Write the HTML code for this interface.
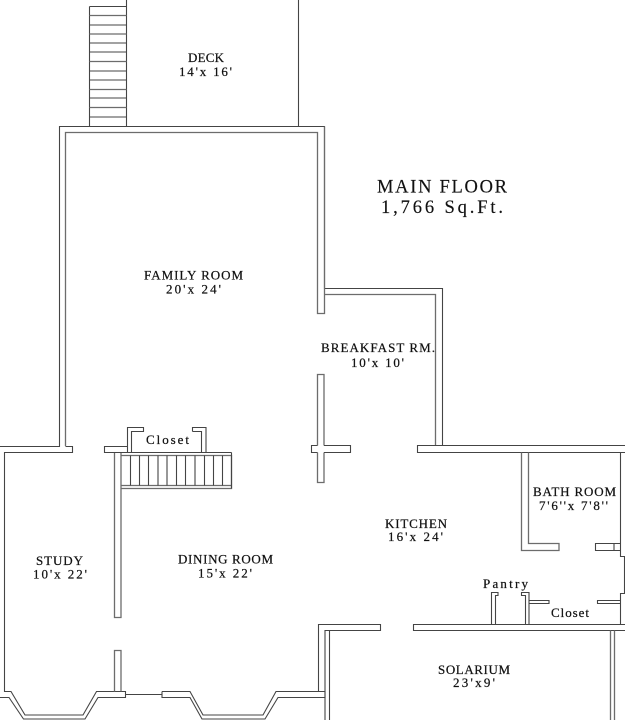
<!DOCTYPE html>
<html><head><meta charset="utf-8"><style>
html,body{margin:0;padding:0;background:#fff}
svg{display:block}
.w{fill:none;stroke:#444;stroke-width:1.1}
.g{fill:none;stroke:#6c6c6c;stroke-width:1.3}
text{font-family:"Liberation Serif",serif;font-size:13px;fill:#111;stroke:#111;stroke-width:.22px;white-space:pre}
.big{font-size:18.5px;stroke-width:.15px}
</style></head><body>
<svg width="625" height="720" viewBox="0 0 625 720" xmlns="http://www.w3.org/2000/svg">
<!-- deck -->
<path class="w" d="M89.5 6.5V126.5M126.5 0V126.5M298.5 0V126.5"/>
<path class="w" d="M89.5 6.5H126.5M89.5 25H126.5M89.5 43H126.5M89.5 52H126.5M89.5 71H126.5M89.5 80H126.5M89.5 98H126.5M89.5 117H126.5"/>
<path class="g" d="M89.5 15.5H126.5M89.5 34H126.5M89.5 61.5H126.5M89.5 89.5H126.5M89.5 107.5H126.5"/>
<!-- family room -->
<path class="w" d="M0 446.5H59.5V126.5H324.5V288.5H442.5V446"/>
<path class="g" d="M65.5 446V132.5H317.5V313.5H324.5V126.5M324.5 294.5H435.5V446"/>
<path class="w" d="M65.5 446.5H72.5V452.5H4.5V691.5H11L25 715H83L96.5 691.5H125.5V697.5H98L85 719H23.5L9 697.5H0"/>
<!-- dining wall -->
<path class="g" d="M114.5 452.5V617.5H121V452.5"/>
<path class="g" d="M114.5 691.5V650.5H121V691.5"/>
<path class="w" d="M125.5 694.5H162"/>
<path class="w" d="M162 691.5V697.5H190L202 719H265L278 697.5H325V691.5H276L263 715H203L190 691.5H162"/>
<!-- closet / stair -->
<path class="w" d="M127.5 446.5H104.5V452.5H231.5M127.5 452V427.5H143.5V431.5H131.5V452M192.5 431.5V427.5H206V452M192.5 431.5H201.5V452"/>
<path class="g" d="M121 455.5H231.5V488.5H121M121 485.5H231.5"/>
<path class="w" d="M231.5 452.5V488.5M130.5 455.5V485.5M139.5 455.5V485.5M148.5 455.5V485.5M158 455.5V485.5M167 455.5V485.5M176.5 455.5V485.5M185.5 455.5V485.5M195 455.5V485.5M204.5 455.5V485.5M213.5 455.5V485.5M222.5 455.5V485.5"/>
<!-- partition and cross -->
<path class="g" d="M317.5 445.5V374.5H324V445.5M324 452.5V482.5H317.5V452.5"/>
<path class="w" d="M317.5 445.5H311.5V452.5H317.5M324 445.5H350.5V452.5H324"/>
<!-- kitchen wall -->
<path class="w" d="M625 445.5H417.5V452.5H625"/>
<!-- bath -->
<path class="g" d="M521.5 452.5V550.5H559V543.5H528.5V452.5"/>
<path class="w" d="M620.5 452.5V556.5H624.5V593.5H620.5V624.5"/>
<path class="w" d="M620.5 543.5H595.5V550.5H620.5M614 543.5V550.5"/>
<!-- pantry & closet -->
<path class="w" d="M491.5 624V592.5H498V595.5H495.5V624"/>
<path class="w" d="M525.5 624V595.5H521.5V592.5H529V624"/>
<path class="w" d="M529 600.5H549V603.5H529M620.5 600.5H597.5V603.5H620.5"/>
<!-- solarium -->
<path class="w" d="M325 720V630.5H380.5V624.5H318.5V691"/>
<path class="w" d="M329.5 630.5V720"/>
<path class="w" d="M625 624.5H413.5V630.5H625"/>
<path class="g" d="M610.5 630.5V720M614.5 630.5V720"/>
<!-- labels -->
<text x="188" y="62" textLength="36" lengthAdjust="spacing">DECK</text>
<text x="179" y="76" textLength="53" lengthAdjust="spacing">14'x 16'</text>
<text class="big" x="377" y="192.5" textLength="130" lengthAdjust="spacing">MAIN FLOOR</text>
<text class="big" x="381" y="213" textLength="122" lengthAdjust="spacing">1,766 Sq.Ft.</text>
<text x="144" y="279.5" textLength="99" lengthAdjust="spacing">FAMILY ROOM</text>
<text x="166" y="293.5" textLength="55" lengthAdjust="spacing">20'x 24'</text>
<text x="321" y="352" textLength="114" lengthAdjust="spacing">BREAKFAST RM.</text>
<text x="351" y="367" textLength="53" lengthAdjust="spacing">10'x 10'</text>
<text x="146" y="444" textLength="43" lengthAdjust="spacing">Closet</text>
<text x="36" y="565" textLength="47" lengthAdjust="spacing">STUDY</text>
<text x="33" y="578.5" textLength="54" lengthAdjust="spacing">10'x 22'</text>
<text x="178" y="563.5" textLength="95" lengthAdjust="spacing">DINING ROOM</text>
<text x="198" y="577.5" textLength="54" lengthAdjust="spacing">15'x 22'</text>
<text x="385" y="528" textLength="62" lengthAdjust="spacing">KITCHEN</text>
<text x="388" y="541" textLength="55" lengthAdjust="spacing">16'x 24'</text>
<text x="533" y="496" textLength="83" lengthAdjust="spacing">BATH ROOM</text>
<text x="539" y="510" textLength="69" lengthAdjust="spacing">7'6''x 7'8''</text>
<text x="483" y="588" textLength="45" lengthAdjust="spacing">Pantry</text>
<text x="551" y="617" textLength="38" lengthAdjust="spacing">Closet</text>
<text x="438" y="674" textLength="72" lengthAdjust="spacing">SOLARIUM</text>
<text x="453" y="687" textLength="42" lengthAdjust="spacing">23'x9'</text>
</svg>
</body></html>
